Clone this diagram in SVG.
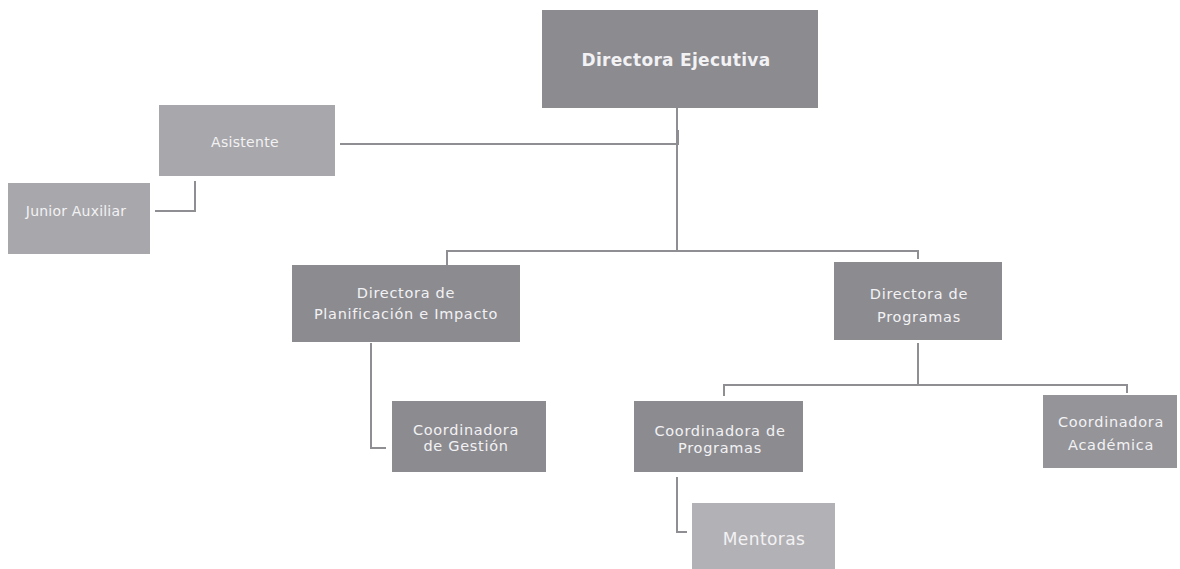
<svg xmlns="http://www.w3.org/2000/svg" width="1180" height="569" viewBox="0 0 1180 569">
<style>
.box{fill:#8c8b90}
.light{fill:#a8a7ab}
.lighter{fill:#b2b1b5}
.lbl{font-family:"DejaVu Sans","Liberation Sans",sans-serif;fill:#f2f2f4;text-anchor:middle;font-size:14.5px;letter-spacing:0.7px}
.bold{font-weight:bold;font-size:17px;letter-spacing:0.3px}
.conn{fill:none;stroke:#8f8e93;stroke-width:2}
</style>
<rect width="1180" height="569" fill="#ffffff"/>
<g id="connectors">
<path class="conn" d="M677,108 V252"/>
<path class="conn" d="M340,144 H678 V130"/>
<path class="conn" d="M447,265 V251 H918 V259"/>
<path class="conn" d="M195,181 V211 H155"/>
<path class="conn" d="M371,343 V448 H386"/>
<path class="conn" d="M918,343 V385"/>
<path class="conn" d="M724,396 V385 H1127 V393"/>
<path class="conn" d="M677,477 V532 H687"/>
</g>
<g id="directora-ejecutiva">
<rect class="box" x="542" y="10" width="276" height="98"/>
<text class="lbl bold" x="676" y="66">Directora Ejecutiva</text>
</g>
<g id="asistente">
<rect class="light" x="159" y="105" width="176" height="71"/>
<text class="lbl" x="245" y="147" style="font-size:14px;letter-spacing:0.3px">Asistente</text>
</g>
<g id="junior-auxiliar">
<rect class="light" x="8" y="183" width="142" height="71"/>
<text class="lbl" x="76" y="216" style="font-size:14px;letter-spacing:0.2px">Junior Auxiliar</text>
</g>
<g id="directora-planificacion">
<rect class="box" x="292" y="265" width="228" height="77"/>
<text class="lbl" x="406" y="298">Directora de</text>
<text class="lbl" x="406" y="319">Planificación e Impacto</text>
</g>
<g id="directora-programas">
<rect class="box" x="834" y="262" width="168" height="78"/>
<text class="lbl" x="919" y="299">Directora de</text>
<text class="lbl" x="919" y="322">Programas</text>
</g>
<g id="coordinadora-gestion">
<rect class="box" x="392" y="401" width="154" height="71"/>
<text class="lbl" x="466" y="435">Coordinadora</text>
<text class="lbl" x="466" y="451">de Gestión</text>
</g>
<g id="coordinadora-programas">
<rect class="box" x="634" y="401" width="169" height="71"/>
<text class="lbl" x="720" y="436">Coordinadora de</text>
<text class="lbl" x="720" y="453">Programas</text>
</g>
<g id="coordinadora-academica">
<rect class="box" x="1043" y="395" width="134" height="73" style="fill:#959499"/>
<text class="lbl" x="1111" y="427">Coordinadora</text>
<text class="lbl" x="1111" y="450">Académica</text>
</g>
<g id="mentoras">
<rect class="lighter" x="692" y="503" width="143" height="70"/>
<text class="lbl" x="764" y="545" style="font-size:17px;letter-spacing:0.4px">Mentoras</text>
</g>
</svg>
